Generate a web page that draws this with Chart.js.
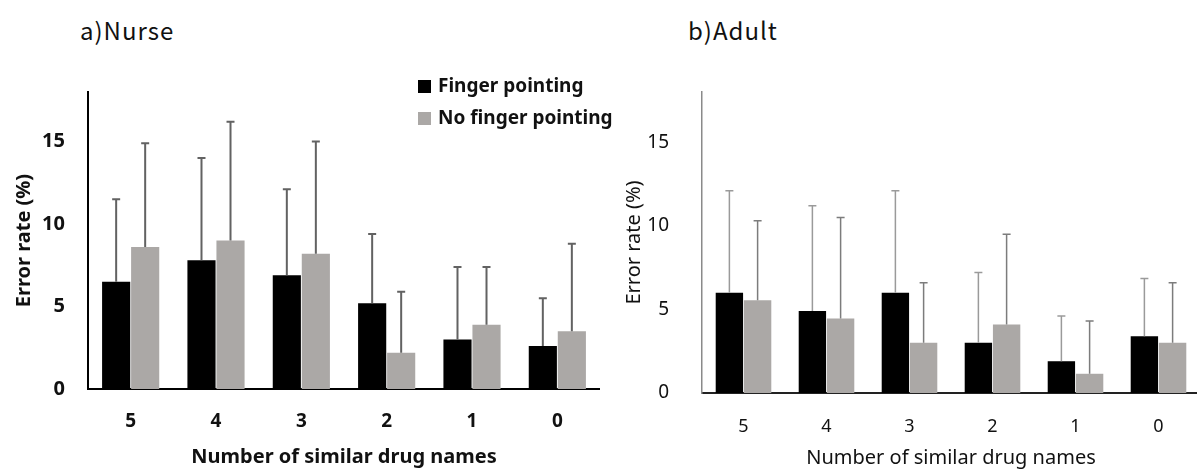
<!DOCTYPE html>
<html>
<head>
<meta charset="utf-8">
<script src="https://cdn.jsdelivr.net/npm/chart.js@4.4.1/dist/chart.umd.min.js"></script>
<style>
  html, body { margin: 0; padding: 0; background: #fff; overflow: hidden; }
  body { width: 1197px; height: 473px; position: relative; }
  .panel { position: absolute; top: 0; height: 473px; }
  .panelTitle {
    position: absolute; top: 15px; font-family: "Noto Sans CJK JP", "Noto Sans", sans-serif;
    font-size: 24px; letter-spacing: 1px; color: #111; line-height: 30px;
  }
  #legend {
    position: absolute; left: 418px; top: 74px;
    font-family: "Noto Sans", sans-serif; font-weight: bold; font-size: 19px; color: #111;
  }
  #legend div { height: 32px; line-height: 22px; white-space: nowrap; }
  #legend span.box { display: inline-block; width: 13px; height: 13px; margin-right: 7px; vertical-align: -1px; }
</style>
</head>
<body>
<div class="panelTitle" style="left:80px">a)Nurse</div>
<div class="panelTitle" style="left:688px">b)Adult</div>
<div class="panel" style="left:0;width:600px"><canvas id="nurseChart" width="600" height="473"></canvas></div>
<div class="panel" style="left:600px;width:600px"><canvas id="adultChart" width="600" height="473"></canvas></div>
<div id="legend"></div>

<script>
// categories and series (error rate %, mean and SD)
const categories = ["5", "4", "3", "2", "1", "0"];
const seriesNames = ["Finger pointing", "No finger pointing"];

const nurseFinger = [6.5, 7.8, 6.9, 5.2, 3.0, 2.6];
const nurseNoFinger = [8.6, 9.0, 8.2, 2.2, 3.9, 3.5];
const nurseFingerSD = [5.0, 6.2, 5.2, 4.2, 4.4, 2.9];
const nurseNoFingerSD = [6.3, 7.2, 6.8, 3.7, 3.5, 5.3];

const adultFinger = [6.0, 4.9, 6.0, 3.0, 1.9, 3.4];
const adultNoFinger = [5.55, 4.45, 3.0, 4.1, 1.15, 3.0];
const adultFingerSD = [6.1, 6.3, 6.1, 4.2, 2.7, 3.45];
const adultNoFingerSD = [4.75, 6.05, 3.6, 5.4, 3.15, 3.6];

const yTicks = [0, 5, 10, 15];

const barColors = ["#000000", "#aba8a6"];

// draws one-sided (upper) error bars on top of each bar
const errorBars = {
  id: "errorBars",
  afterDatasetsDraw(chart) {
    const ctx = chart.ctx;
    const yScale = chart.scales.y;
    chart.data.datasets.forEach((ds, di) => {
      const meta = chart.getDatasetMeta(di);
      meta.data.forEach((bar, i) => {
        const top = yScale.getPixelForValue(ds.data[i] + ds.sd[i]);
        ctx.save();
        ctx.strokeStyle = ds.errColor;
        ctx.lineWidth = ds.errWidth;
        ctx.beginPath();
        ctx.moveTo(bar.x, bar.y);
        ctx.lineTo(bar.x, top);
        ctx.moveTo(bar.x - 4, top);
        ctx.lineTo(bar.x + 4, top);
        ctx.stroke();
        ctx.restore();
      });
    });
  },
};

const makePanel = (canvasId, values, sds, look) => {
  return new Chart(document.getElementById(canvasId), {
    type: "bar",
    data: {
      labels: categories,
      datasets: values.map((v, k) => ({
        label: seriesNames[k],
        data: v,
        sd: sds[k],
        backgroundColor: barColors[k],
        borderWidth: 0,
        errColor: look.errColors[k],
        errWidth: look.errWidth,
        categoryPercentage: 0.68,
        barPercentage: 0.97,
      })),
    },
    options: {
      responsive: false,
      animation: false,
      layout: { padding: { top: look.top, right: 0, left: 0, bottom: 0 } },
      plugins: { legend: { display: false }, tooltip: { enabled: false } },
      scales: {
        x: {
          grid: { display: false, drawTicks: false },
          border: { display: true, color: look.baseColor, width: 2 },
          ticks: { color: "#111", padding: look.xPad, font: { family: "Noto Sans", size: look.xTickSize, weight: look.weight } },
          title: {
            display: true,
            text: "Number of similar drug names",
            color: "#111",
            padding: { bottom: look.xTitlePad, top: 0 },
            font: { family: "Noto Sans", size: 20, weight: look.weight },
          },
          afterFit: (scale) => { scale.height = look.xHeight; },
        },
        y: {
          min: 0,
          max: 18,
          grid: { display: false, drawTicks: false },
          border: { display: true, color: look.axisColor, width: look.axisWidth },
          ticks: { stepSize: 5, color: "#111", padding: look.yPad, font: { family: "Noto Sans", size: look.yTickSize, weight: look.weight } },
          afterBuildTicks: (scale) => {
            scale.ticks = yTicks.map((v) => ({ value: v }));
          },
          title: {
            display: true,
            text: "Error rate (%)",
            color: "#111",
            padding: { top: look.yTitlePad, bottom: 0 },
            font: { family: "Noto Sans", size: 20, weight: look.weight },
          },
          afterFit: (scale) => { scale.width = look.yWidth; },
        },
      },
    },
    plugins: [errorBars],
  });
};

makePanel("nurseChart", [nurseFinger, nurseNoFinger], [nurseFingerSD, nurseNoFingerSD], {
  top: 92, yWidth: 88, xHeight: 84, weight: "bold",
  axisColor: "#000", axisWidth: 2, baseColor: "#000",
  errColors: ["#626262", "#626262"], errWidth: 2,
  xPad: 21, yPad: 23, xTitlePad: 4, yTitlePad: 12, xTickSize: 19, yTickSize: 20,
});

makePanel("adultChart", [adultFinger, adultNoFinger], [adultFingerSD, adultNoFingerSD], {
  top: 92, yWidth: 102, xHeight: 80, weight: "normal",
  axisColor: "#8a8a8a", axisWidth: 1.5, baseColor: "#222",
  errColors: ["#9a9a9a", "#7c7c7c"], errWidth: 1.5,
  xPad: 23, yPad: 33, xTitlePad: 3, yTitlePad: 22, xTickSize: 18, yTickSize: 19,
});

// legend built from the series names
const legend = document.getElementById("legend");
seriesNames.forEach((name, k) => {
  const row = document.createElement("div");
  row.innerHTML = `<span class="box" style="background:${barColors[k]}"></span>${name}`;
  legend.appendChild(row);
});
</script>
</body>
</html>
